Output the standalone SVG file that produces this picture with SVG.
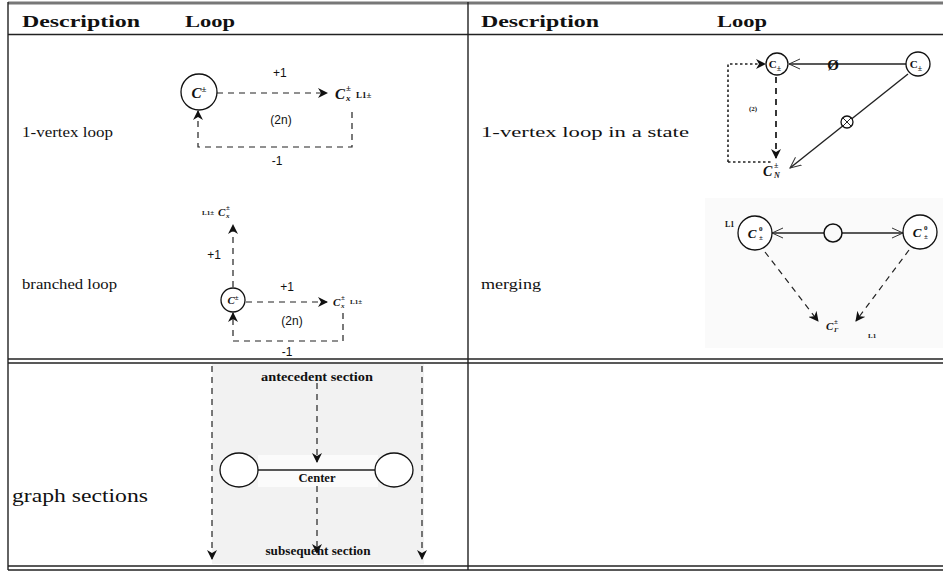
<svg xmlns="http://www.w3.org/2000/svg" width="943" height="573" viewBox="0 0 943 573">
<defs>
<style>
.hd{font-family:"Liberation Serif",serif;font-weight:bold;font-size:17px;fill:#111}
.ds{font-family:"Liberation Serif",serif;font-size:15px;fill:#111}
.sn{font-family:"Liberation Sans",Arial,sans-serif;font-size:12px;fill:#111}
.mi{font-family:"Liberation Serif",serif;font-style:italic;font-weight:bold;fill:#111}
.sm{font-family:"Liberation Serif",serif;font-weight:bold;fill:#111}
.nd{fill:#fff;stroke:#111;stroke-width:1.3}
.dash{fill:none;stroke:#222;stroke-width:1.2;stroke-dasharray:6 5}
.dot{fill:none;stroke:#222;stroke-width:1.6;stroke-dasharray:2.5 2.5}
.sol{fill:none;stroke:#222;stroke-width:1.4}
.tb{stroke:#222;stroke-width:1.4;fill:none}
</style>
<marker id="st" viewBox="0 0 10 10" refX="9" refY="5" markerWidth="10" markerHeight="10" orient="auto" markerUnits="userSpaceOnUse">
<path d="M0,0 L10,5 L0,10 L3,5 z" fill="#111"/>
</marker>
<marker id="op" viewBox="0 0 12 12" refX="11" refY="6" markerWidth="12" markerHeight="12" orient="auto" markerUnits="userSpaceOnUse">
<path d="M0,1 L11,6 L0,11" fill="none" stroke="#333" stroke-width="1"/>
</marker>
</defs>
<rect x="0" y="0" width="943" height="573" fill="#fff"/>

<!-- backgrounds -->
<rect x="705" y="198" width="238" height="150" fill="#fafafa"/>
<rect x="212" y="364" width="212" height="200" fill="#f2f2f2"/>
<rect x="258" y="455" width="120" height="32" fill="#fbfbfb"/>

<!-- table -->
<g id="table">
<line x1="8" y1="3" x2="943" y2="3" stroke="#777" stroke-width="3"/>
<line x1="8" y1="34.5" x2="943" y2="34.5" class="tb"/>
<line x1="8" y1="2" x2="8" y2="570" class="tb"/>
<line x1="468" y1="2" x2="468" y2="570" class="tb"/>
<line x1="8" y1="359" x2="943" y2="359" class="tb"/>
<line x1="8" y1="363" x2="943" y2="363" class="tb"/>
<line x1="8" y1="566" x2="943" y2="566" class="tb"/>
<line x1="8" y1="570" x2="943" y2="570" class="tb"/>
<text x="22" y="27" class="hd" textLength="118" lengthAdjust="spacingAndGlyphs">Description</text>
<text x="185" y="27" class="hd" textLength="50" lengthAdjust="spacingAndGlyphs">Loop</text>
<text x="481" y="27" class="hd" textLength="118" lengthAdjust="spacingAndGlyphs">Description</text>
<text x="717" y="27" class="hd" textLength="50" lengthAdjust="spacingAndGlyphs">Loop</text>
<text x="22" y="137" class="ds" textLength="91" lengthAdjust="spacingAndGlyphs">1-vertex loop</text>
<text x="22" y="289" class="ds" textLength="95" lengthAdjust="spacingAndGlyphs">branched loop</text>
<text x="481" y="137" class="ds" textLength="208" lengthAdjust="spacingAndGlyphs">1-vertex loop in a state</text>
<text x="481" y="289" class="ds" textLength="60" lengthAdjust="spacingAndGlyphs">merging</text>
<text x="12" y="502" class="ds" style="font-size:19px" textLength="136" lengthAdjust="spacingAndGlyphs">graph sections</text>
</g>

<!-- connectors -->
<g id="connectors">
<line x1="217" y1="93" x2="327" y2="93" class="dash" marker-end="url(#st)"/>
<polyline points="352,112 352,147 198,147 198,111" class="dash" marker-end="url(#st)"/>
<line x1="233" y1="287" x2="233" y2="225" class="dash" marker-end="url(#st)"/>
<line x1="246" y1="302" x2="327" y2="302" class="dash" marker-end="url(#st)"/>
<polyline points="343,313 343,341 233,341 233,313" class="dash" marker-end="url(#st)"/>
<line x1="906" y1="64" x2="789" y2="64" class="sol" marker-end="url(#op)"/>
<polyline points="728,162 728,64 765,64" class="dot" marker-end="url(#st)"/>
<line x1="728" y1="162" x2="772" y2="162" class="dot"/>
<line x1="776" y1="77" x2="776" y2="158" class="dash" style="stroke-width:1.8" marker-end="url(#st)"/>
<line x1="908" y1="74" x2="790" y2="168" class="sol" marker-end="url(#op)"/>
<line x1="824" y1="233" x2="772" y2="233" class="sol" marker-end="url(#op)"/>
<line x1="842" y1="233" x2="903" y2="233" class="sol" marker-end="url(#op)"/>
<line x1="765" y1="252" x2="818" y2="321" class="dash" marker-end="url(#st)"/>
<line x1="909" y1="250" x2="856" y2="321" class="dash" marker-end="url(#st)"/>
<line x1="212" y1="366" x2="212" y2="559" class="dash" marker-end="url(#st)"/>
<line x1="422" y1="366" x2="422" y2="559" class="dash" marker-end="url(#st)"/>
<line x1="317" y1="383" x2="317" y2="462" class="dash" marker-end="url(#st)"/>
<line x1="317" y1="486" x2="317" y2="553" class="dash" marker-end="url(#st)"/>
<line x1="258" y1="470" x2="375" y2="470" class="sol"/>
</g>

<!-- nodes -->
<g id="n-c1">
<circle cx="199" cy="92" r="18" class="nd"/>
<text x="199" y="98" class="mi" font-size="15" text-anchor="middle">C<tspan font-size="9" dy="-6">±</tspan></text>
</g>
<g id="n-cx1">
<text x="335" y="99" class="mi" font-size="15">C</text>
<text x="346" y="91" class="sm" font-size="9">±</text>
<text x="346" y="101" class="mi" font-size="9">x</text>
<text x="356" y="98" class="sm" font-size="9">L1±</text>
</g>
<g id="lbl-r1">
<text x="273" y="77" class="sn">+1</text>
<text x="281" y="124" class="sn" text-anchor="middle">(2n)</text>
<text x="277" y="165" class="sn" text-anchor="middle">-1</text>
</g>

<g id="n-c2">
<circle cx="233" cy="300" r="12" class="nd"/>
<text x="233" y="304" class="mi" font-size="11" text-anchor="middle">C<tspan font-size="7" dy="-4">±</tspan></text>
</g>
<g id="n-cx2top">
<text x="202" y="215" class="sm" font-size="7">L1±</text>
<text x="218" y="216" class="mi" font-size="11">C</text>
<text x="226" y="210" class="sm" font-size="7">±</text>
<text x="226" y="218" class="mi" font-size="7">x</text>
</g>
<g id="n-cx2">
<text x="333" y="306" class="mi" font-size="11">C</text>
<text x="341" y="300" class="sm" font-size="7">±</text>
<text x="341" y="308" class="mi" font-size="7">x</text>
<text x="350" y="304" class="sm" font-size="7">L1±</text>
</g>
<g id="lbl-r2">
<text x="214" y="259" class="sn" font-size="10" text-anchor="middle">+1</text>
<text x="287" y="291" class="sn" font-size="10" text-anchor="middle">+1</text>
<text x="292" y="325" class="sn" font-size="10" text-anchor="middle">(2n)</text>
<text x="287" y="356" class="sn" font-size="10" text-anchor="middle">-1</text>
</g>

<g id="n-s1">
<circle cx="777" cy="64" r="11" class="nd"/>
<text x="775" y="68" class="sm" font-size="11" text-anchor="middle">C<tspan font-size="8" dy="3">±</tspan></text>
</g>
<g id="n-s2">
<circle cx="918" cy="64" r="12" class="nd"/>
<text x="916" y="68" class="sm" font-size="11" text-anchor="middle">C<tspan font-size="8" dy="3">±</tspan></text>
</g>
<g id="n-empty">
<text x="833" y="70" class="ds" font-size="16" font-weight="bold" text-anchor="middle">Ø</text>
</g>
<g id="n-otimes">
<circle cx="847" cy="122" r="6" class="nd"/>
<line x1="843" y1="118" x2="851" y2="126" class="sol" style="stroke-width:1"/>
<line x1="851" y1="118" x2="843" y2="126" class="sol" style="stroke-width:1"/>
</g>
<g id="n-cn">
<text x="763" y="176" class="mi" font-size="14">C</text>
<text x="774" y="168" class="sm" font-size="8">±</text>
<text x="774" y="178" class="mi" font-size="8">N</text>
<text x="753" y="111" class="sm" font-size="7" text-anchor="middle">(2)</text>
</g>

<g id="n-m1">
<circle cx="755" cy="233" r="17" class="nd"/>
<text x="752" y="238" class="mi" font-size="13" text-anchor="middle">C</text>
<text x="759" y="231" class="sm" font-size="7">0</text>
<text x="759" y="240" class="sm" font-size="7">±</text>
<text x="725" y="227" class="sm" font-size="8">L1</text>
</g>
<g id="n-m2">
<circle cx="920" cy="232" r="17" class="nd"/>
<text x="917" y="237" class="mi" font-size="13" text-anchor="middle">C</text>
<text x="924" y="230" class="sm" font-size="7">0</text>
<text x="924" y="239" class="sm" font-size="7">±</text>
</g>
<g id="n-theta">
<circle cx="833" cy="233" r="9" fill="none" stroke="#111" stroke-width="1.5"/>
</g>
<g id="n-m3">
<text x="826" y="330" class="mi" font-size="11">C</text>
<text x="834" y="324" class="sm" font-size="7">±</text>
<text x="834" y="332" class="mi" font-size="7">Γ</text>
<text x="868" y="338" class="sm" font-size="7">L1</text>
</g>

<g id="n-left">
<ellipse cx="239" cy="470" rx="19" ry="17" class="nd"/>
</g>
<g id="n-right">
<ellipse cx="394" cy="470" rx="19" ry="17" class="nd"/>
</g>
<g id="lbl-r3">
<text x="317" y="381" class="sm" font-size="12" text-anchor="middle" textLength="112" lengthAdjust="spacingAndGlyphs">antecedent section</text>
<text x="317" y="482" class="sm" font-size="12" text-anchor="middle" textLength="37" lengthAdjust="spacingAndGlyphs">Center</text>
<text x="318" y="555" class="sm" font-size="12" text-anchor="middle" textLength="105" lengthAdjust="spacingAndGlyphs">subsequent section</text>
</g>
</svg>
